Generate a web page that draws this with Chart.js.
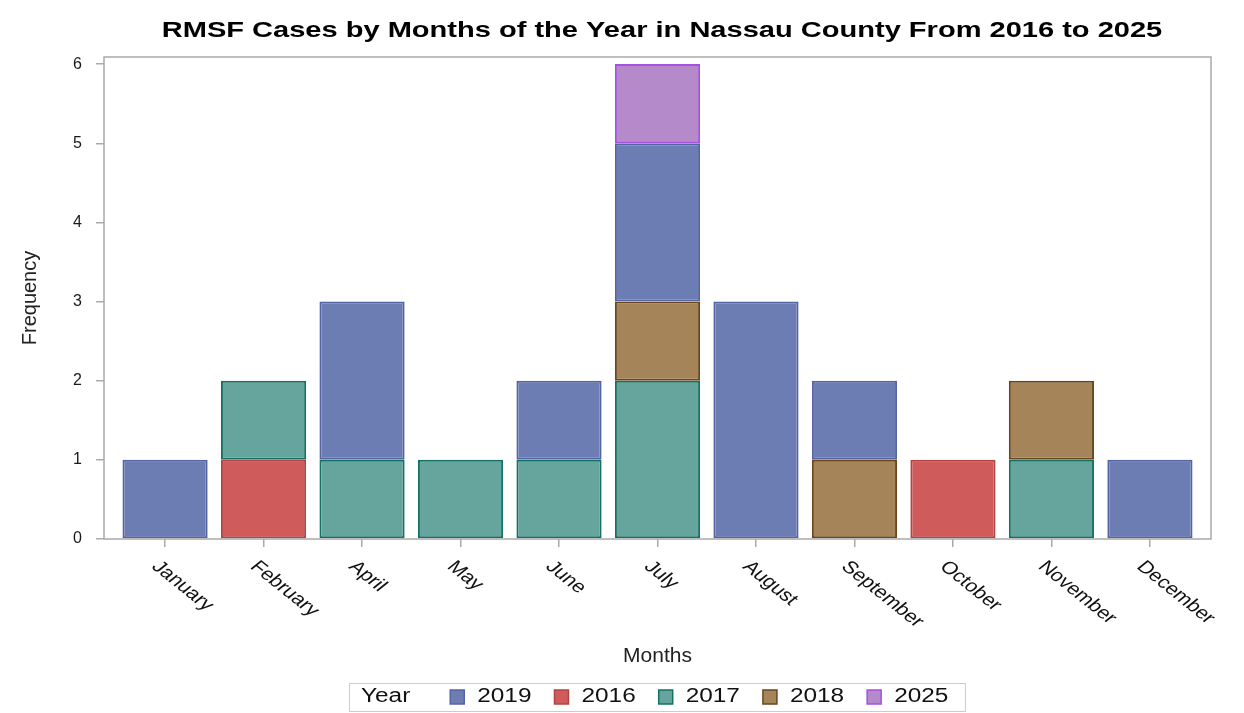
<!DOCTYPE html>
<html>
<head>
<meta charset="utf-8">
<style>html,body{margin:0;padding:0;background:#fff;}canvas{display:block;}</style>
<script src="https://cdn.jsdelivr.net/npm/chart.js@4.4.1/dist/chart.umd.min.js"></script>
</head>
<body>
<canvas id="c" width="1244" height="713"></canvas>
<script>
// ---- data ----
const chartTitle = 'RMSF Cases by Months of the Year in Nassau County From 2016 to 2025';
const xAxisTitle = 'Months';
const yAxisTitle = 'Frequency';
const legendTitle = 'Year';
const months = ['January','February','April','May','June','July','August','September','October','November','December'];
const yearLabels = ['2016','2017','2018','2019','2025'];          // stacking order (bottom -> top)
const cases2016 = [null,1,null,null,null,null,null,null,1,null,null];
const cases2017 = [null,1,1,1,1,2,null,null,null,1,null];
const cases2018 = [null,null,null,null,null,1,null,1,null,1,null];
const cases2019 = [1,null,2,null,1,2,3,1,null,null,1];
const cases2025 = [null,null,null,null,null,1,null,null,null,null,null];
const yTickValues = [0,1,2,3,4,5,6];
const legendOrder = ['2019','2016','2017','2018','2025'];

// ---- styles ----
const FONT = "'Liberation Sans', Arial, Helvetica, sans-serif";
const SX = 1.25;
const fills = {'2016':'#D05B5B','2017':'#66A59D','2018':'#A6845A','2019':'#6C7DB3','2025':'#B48ACA'};
const borders = {'2016':'#B24444','2017':'#147265','2018':'#6A461A','2019':'#5564A3','2025':'#A64FE0'};
const seriesValues = {'2016':cases2016,'2017':cases2017,'2018':cases2018,'2019':cases2019,'2025':cases2025};

const datasets = yearLabels.map(y => ({
  label: y,
  data: seriesValues[y],
  backgroundColor: fills[y],
  borderColor: borders[y],
  borderWidth: 2,
  borderSkipped: false,
  barPercentage: 0.865,
  categoryPercentage: 1.0
}));

const decor = {
  id: 'decor',
  afterDatasetsDraw(chart) {
    const ctx = chart.ctx, ca = chart.chartArea;
    ctx.save();
    ctx.strokeStyle = '#a9a9a9';
    ctx.lineWidth = 1.5;
    ctx.strokeRect(ca.left, ca.top, ca.right - ca.left, ca.bottom - ca.top);
    ctx.restore();
  },
  afterDraw(chart) {
    const ctx = chart.ctx, ca = chart.chartArea, xs = chart.scales.x;
    ctx.save();
    // title
    ctx.fillStyle = '#000';
    ctx.font = `bold 22px ${FONT}`;
    ctx.textAlign = 'center';
    ctx.textBaseline = 'middle';
    ctx.save(); ctx.translate(662, 31); ctx.scale(1.32, 1); ctx.fillText(chartTitle, 0, 0); ctx.restore();
    // rotated category labels
    ctx.font = `17.5px ${FONT}`;
    ctx.fillStyle = '#111';
    ctx.textAlign = 'left';
    ctx.textBaseline = 'middle';
    months.forEach((m, i) => {
      const x = xs.getPixelForValue(i);
      ctx.save();
      ctx.translate(x - 10, ca.bottom + 25);
      ctx.scale(SX, 1);
      ctx.rotate(Math.PI / 4);
      ctx.fillText(m, 0, 0);
      ctx.restore();
    });
    // legend
    const ly = 697;
    ctx.font = `19.5px ${FONT}`;
    ctx.fillStyle = '#111';
    let x = 361;
    ctx.save(); ctx.translate(x, ly); ctx.scale(SX, 1); ctx.fillText(legendTitle, 0, 0); ctx.restore();
    x += ctx.measureText(legendTitle).width * SX + 40;
    legendOrder.forEach((y, k) => {
      ctx.fillStyle = fills[y];
      ctx.fillRect(x, ly - 7, 14, 14);
      ctx.strokeStyle = borders[y];
      ctx.lineWidth = 1.5;
      ctx.strokeRect(x, ly - 7, 14, 14);
      x += 14 + 13;
      ctx.fillStyle = '#111';
      ctx.save(); ctx.translate(x, ly); ctx.scale(SX, 1); ctx.fillText(y, 0, 0); ctx.restore();
      x += ctx.measureText(y).width * SX;
      if (k < legendOrder.length - 1) x += 23;
    });
    ctx.strokeStyle = '#cccccc';
    ctx.lineWidth = 1;
    ctx.strokeRect(349.5, 683.5, x + 17 - 349.5, 28);
    ctx.restore();
  }
};

Chart.defaults.font.family = FONT;
new Chart(document.getElementById('c'), {
  type: 'bar',
  data: { labels: months, datasets },
  options: {
    responsive: false,
    animation: false,
    devicePixelRatio: 1,
    layout: { padding: { left: 0, right: 33, top: 57, bottom: 0 } },
    plugins: { legend: { display: false }, tooltip: { enabled: false }, title: { display: false } },
    scales: {
      x: {
        stacked: true,
        offset: true,
        border: { display: false },
        grid: { display: true, drawOnChartArea: false, drawTicks: true, tickLength: 8, color: '#aaaaaa', offset: false, lineWidth: 1.5 },
        ticks: { display: false },
        title: { display: true, text: xAxisTitle, font: { size: 21 }, color: '#222', padding: { top: 0, bottom: 44 } },
        afterBuildTicks(scale) { scale._startValue = -0.62; scale._valueRange = 11.24; },
        afterFit(scale) { scale.height = 174; }
      },
      y: {
        stacked: true,
        min: 0,
        max: 6.09,
        border: { display: false },
        grid: { display: true, drawOnChartArea: false, drawTicks: true, tickLength: 8, color: '#aaaaaa', lineWidth: 1.5 },
        ticks: { stepSize: 1, padding: 14, font: { size: 16 }, color: '#1a1a1a' },
        afterBuildTicks(scale) { scale.ticks = yTickValues.map(v => ({ value: v })); },
        title: { display: true, text: yAxisTitle, font: { size: 20 }, color: '#222', padding: { top: 18, bottom: 0 } },
        afterFit(scale) { scale.width = 104; }
      }
    }
  },
  plugins: [decor]
});
</script>
</body>
</html>
